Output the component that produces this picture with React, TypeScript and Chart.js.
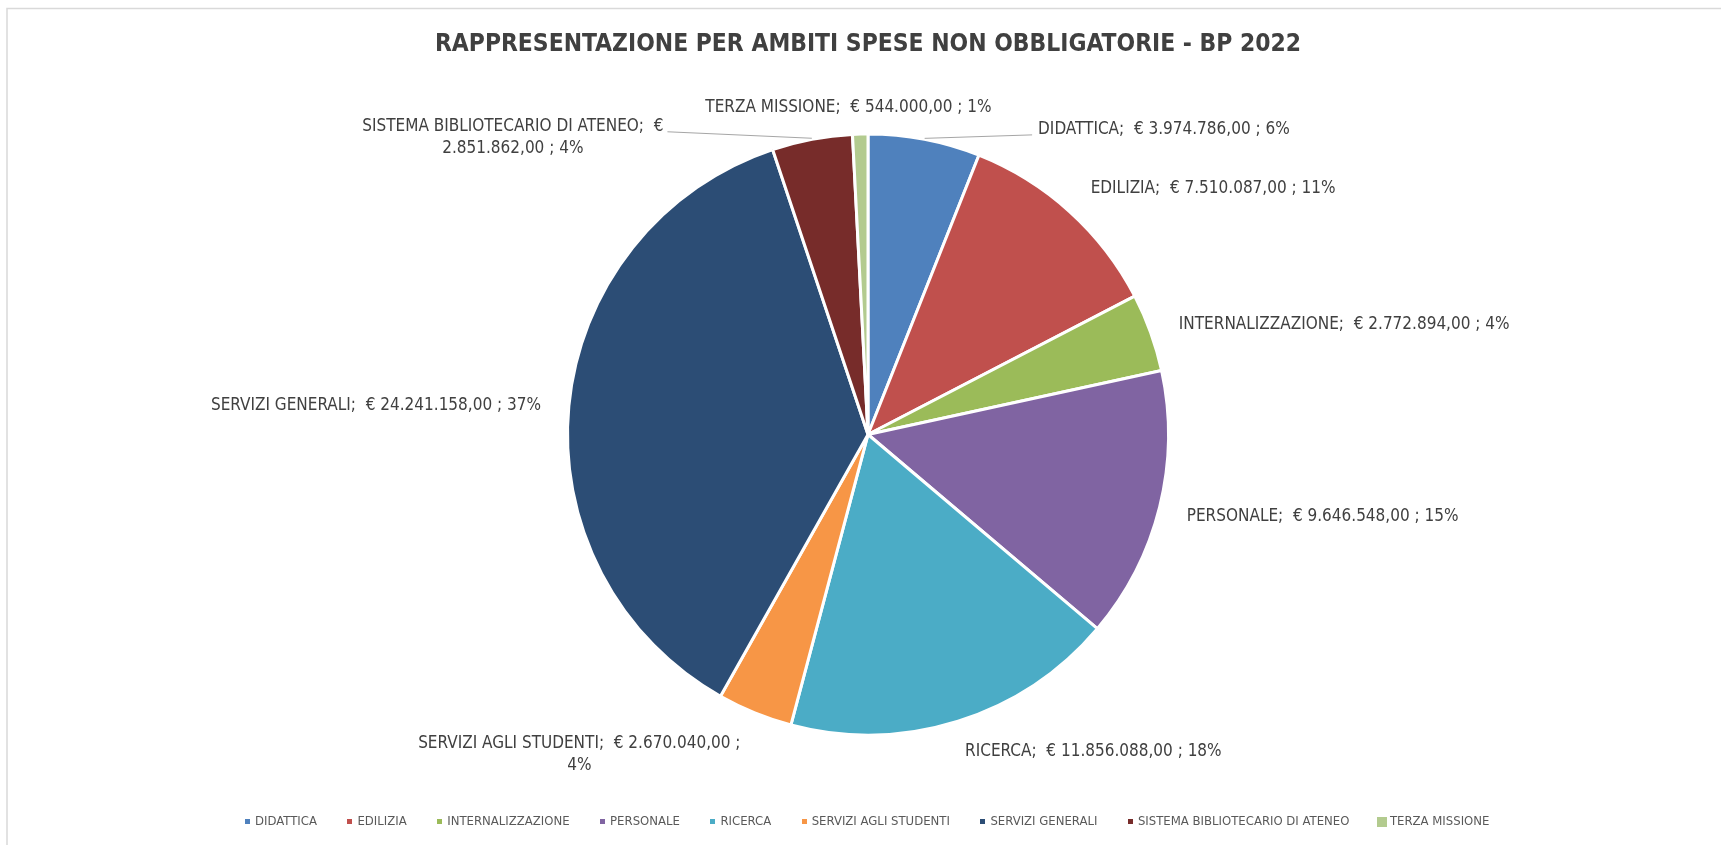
import React, { useEffect, useRef } from 'react';
import { Chart, registerables } from 'chart.js';

Chart.register(...registerables);

// ---------------- data ----------------
const categories = [
  'DIDATTICA',
  'EDILIZIA',
  'INTERNALIZZAZIONE',
  'PERSONALE',
  'RICERCA',
  'SERVIZI AGLI STUDENTI',
  'SERVIZI GENERALI',
  'SISTEMA BIBLIOTECARIO DI ATENEO',
  'TERZA MISSIONE',
];
const amounts = [3974786, 7510087, 2772894, 9646548, 11856088, 2670040, 24241158, 2851862, 544000];
const titleText = 'RAPPRESENTAZIONE PER AMBITI SPESE NON OBBLIGATORIE - BP 2022';

// ---------------- styles ----------------
const sliceColors = ['#4F81BD', '#C0504D', '#9BBB59', '#8064A2', '#4BACC6', '#F79646', '#2C4D75', '#772C2A', '#B3CB8F'];
const legendMarkerSizes = [5, 5, 5, 5, 5, 5, 5, 5, 10];
const FONT = "'Liberation Sans Narrow', 'Arial Narrow', 'DejaVu Sans Condensed', sans-serif";
const LABEL_FONT_SIZE = 17;
const LABEL_GAP = 30;
const LINE_H = 22;
// per-label placement tweaks (relative to the default anchor outside the arc)
const labelLayout = [
  { dx: 108, dy: 20, align: 'left', wrap: '', leader: true },
  { dx: 1, dy: -1, align: 'left', wrap: '', leader: false },
  { dx: 0, dy: 2, align: 'left', wrap: '', leader: false },
  { dx: -2, dy: 2, align: 'left', wrap: '', leader: false },
  { dx: -2, dy: 2, align: 'left', wrap: '', leader: false },
  { dx: -3, dy: 14, align: 'right', wrap: 'pct', leader: false },
  { dx: 2, dy: 2, align: 'right', wrap: '', leader: false },
  { dx: -143, dy: 28, align: 'right', wrap: 'value', leader: true },
  { dx: -11, dy: 3, align: 'center', wrap: '', leader: false },
];

function formatEuro(v: number): string {
  const ip = Math.floor(v);
  const intPart = ip.toString().replace(/\B(?=(\d{3})+(?!\d))/g, '.');
  const dec = Math.round((v - ip) * 100).toString().padStart(2, '0');
  return intPart + ',' + dec;
}

const framePlugin = {
  id: 'frame',
  beforeDraw(chart: any) {
    const { ctx, width, height } = chart;
    ctx.save();
    ctx.fillStyle = '#FFFFFF';
    ctx.fillRect(0, 0, width, height);
    ctx.strokeStyle = '#D9D9D9';
    ctx.lineWidth = 1.5;
    ctx.beginPath();
    ctx.moveTo(7, height);
    ctx.lineTo(7, 8.5);
    ctx.lineTo(width, 8.5);
    ctx.stroke();
    ctx.restore();
  },
};

const outerLabelsPlugin = {
  id: 'outerLabels',
  afterDatasetsDraw(chart: any) {
    const ctx = chart.ctx;
    const meta = chart.getDatasetMeta(0);
    const data = chart.data.datasets[0].data as number[];
    const total = data.reduce((a: number, b: number) => a + b, 0);
    ctx.save();
    ctx.font = `${LABEL_FONT_SIZE}px ${FONT}`;
    ctx.textBaseline = 'middle';
    meta.data.forEach((arc: any, i: number) => {
      const { x, y, startAngle, endAngle, outerRadius } = arc.getProps(
        ['x', 'y', 'startAngle', 'endAngle', 'outerRadius'],
        true
      );
      const mid = (startAngle + endAngle) / 2;
      const cos = Math.cos(mid);
      const sin = Math.sin(mid);
      const lay = labelLayout[i];
      const ax = x + cos * (outerRadius + LABEL_GAP) + lay.dx;
      const ay = y + sin * (outerRadius + LABEL_GAP) + lay.dy;
      const name = chart.data.labels[i];
      const val = formatEuro(data[i]);
      const pct = Math.round((data[i] / total) * 100) + '%';
      let lines: string[];
      if (lay.wrap === 'value') lines = [`${name};  €`, `${val} ; ${pct}`];
      else if (lay.wrap === 'pct') lines = [`${name};  € ${val} ;`, pct];
      else lines = [`${name};  € ${val} ; ${pct}`];
      const bw = Math.max(...lines.map((l) => ctx.measureText(l).width));
      const left = lay.align === 'left' ? ax : lay.align === 'right' ? ax - bw : ax - bw / 2;
      const top = ay - (lines.length * LINE_H) / 2;
      const firstY = top + LINE_H / 2;
      if (lay.leader) {
        ctx.strokeStyle = '#A6A6A6';
        ctx.lineWidth = 1;
        ctx.beginPath();
        ctx.moveTo(x + cos * (outerRadius + 1), y + sin * (outerRadius + 1));
        const ex = lay.align === 'left' ? left - 6 : left + bw + 4;
        ctx.lineTo(ex, firstY + 5);
        ctx.stroke();
      }
      ctx.fillStyle = '#404040';
      ctx.textAlign = 'center';
      lines.forEach((l, k) => ctx.fillText(l, left + bw / 2, top + LINE_H * (k + 0.5)));
    });
    ctx.restore();
  },
};

function makeMarker(color: string, size: number): HTMLCanvasElement {
  const c = document.createElement('canvas');
  c.width = size;
  c.height = size;
  const g = c.getContext('2d')!;
  g.fillStyle = color;
  g.fillRect(0, 0, size, size);
  return c;
}

export default function App() {
  const canvasRef = useRef<HTMLCanvasElement | null>(null);

  useEffect(() => {
    if (!canvasRef.current) return;
    const markers = sliceColors.map((c, i) => makeMarker(c, legendMarkerSizes[i]));
    const chart = new Chart(canvasRef.current, {
      type: 'pie',
      data: {
        labels: categories,
        datasets: [
          {
            data: amounts,
            backgroundColor: sliceColors,
            borderColor: '#FFFFFF',
            borderWidth: 3,
          },
        ],
      },
      options: {
        responsive: false,
        animation: false,
        devicePixelRatio: 1,
        radius: 300.5,
        layout: { padding: { left: 15, right: 0, top: 0, bottom: 7 } },
        plugins: {
          title: {
            display: true,
            text: titleText,
            color: '#404040',
            font: { family: FONT, size: 24.4, weight: 'bold', lineHeight: 1.2 },
            padding: { top: 30, bottom: 26.7 },
          },
          legend: {
            display: true,
            position: 'bottom',
            labels: {
              usePointStyle: true,
              pointStyleWidth: 2,
              padding: 32,
              color: '#595959',
              font: { family: FONT, size: 13 },
              generateLabels: (ch: any) =>
                ch.data.labels.map((l: string, i: number) => ({
                  text: l,
                  fillStyle: sliceColors[i],
                  strokeStyle: sliceColors[i],
                  fontColor: '#595959',
                  lineWidth: 0,
                  pointStyle: markers[i],
                  hidden: false,
                  index: i,
                })),
            },
          },
          tooltip: { enabled: false },
        },
      } as any,
      plugins: [framePlugin, outerLabelsPlugin],
    });
    return () => chart.destroy();
  }, []);

  return (
    <div style={{ position: 'absolute', left: 0, top: 0, width: 1721, height: 845, background: '#fff' }}>
      <canvas ref={canvasRef} width={1721} height={845} style={{ display: 'block', width: 1721, height: 845 }} />
    </div>
  );
}
